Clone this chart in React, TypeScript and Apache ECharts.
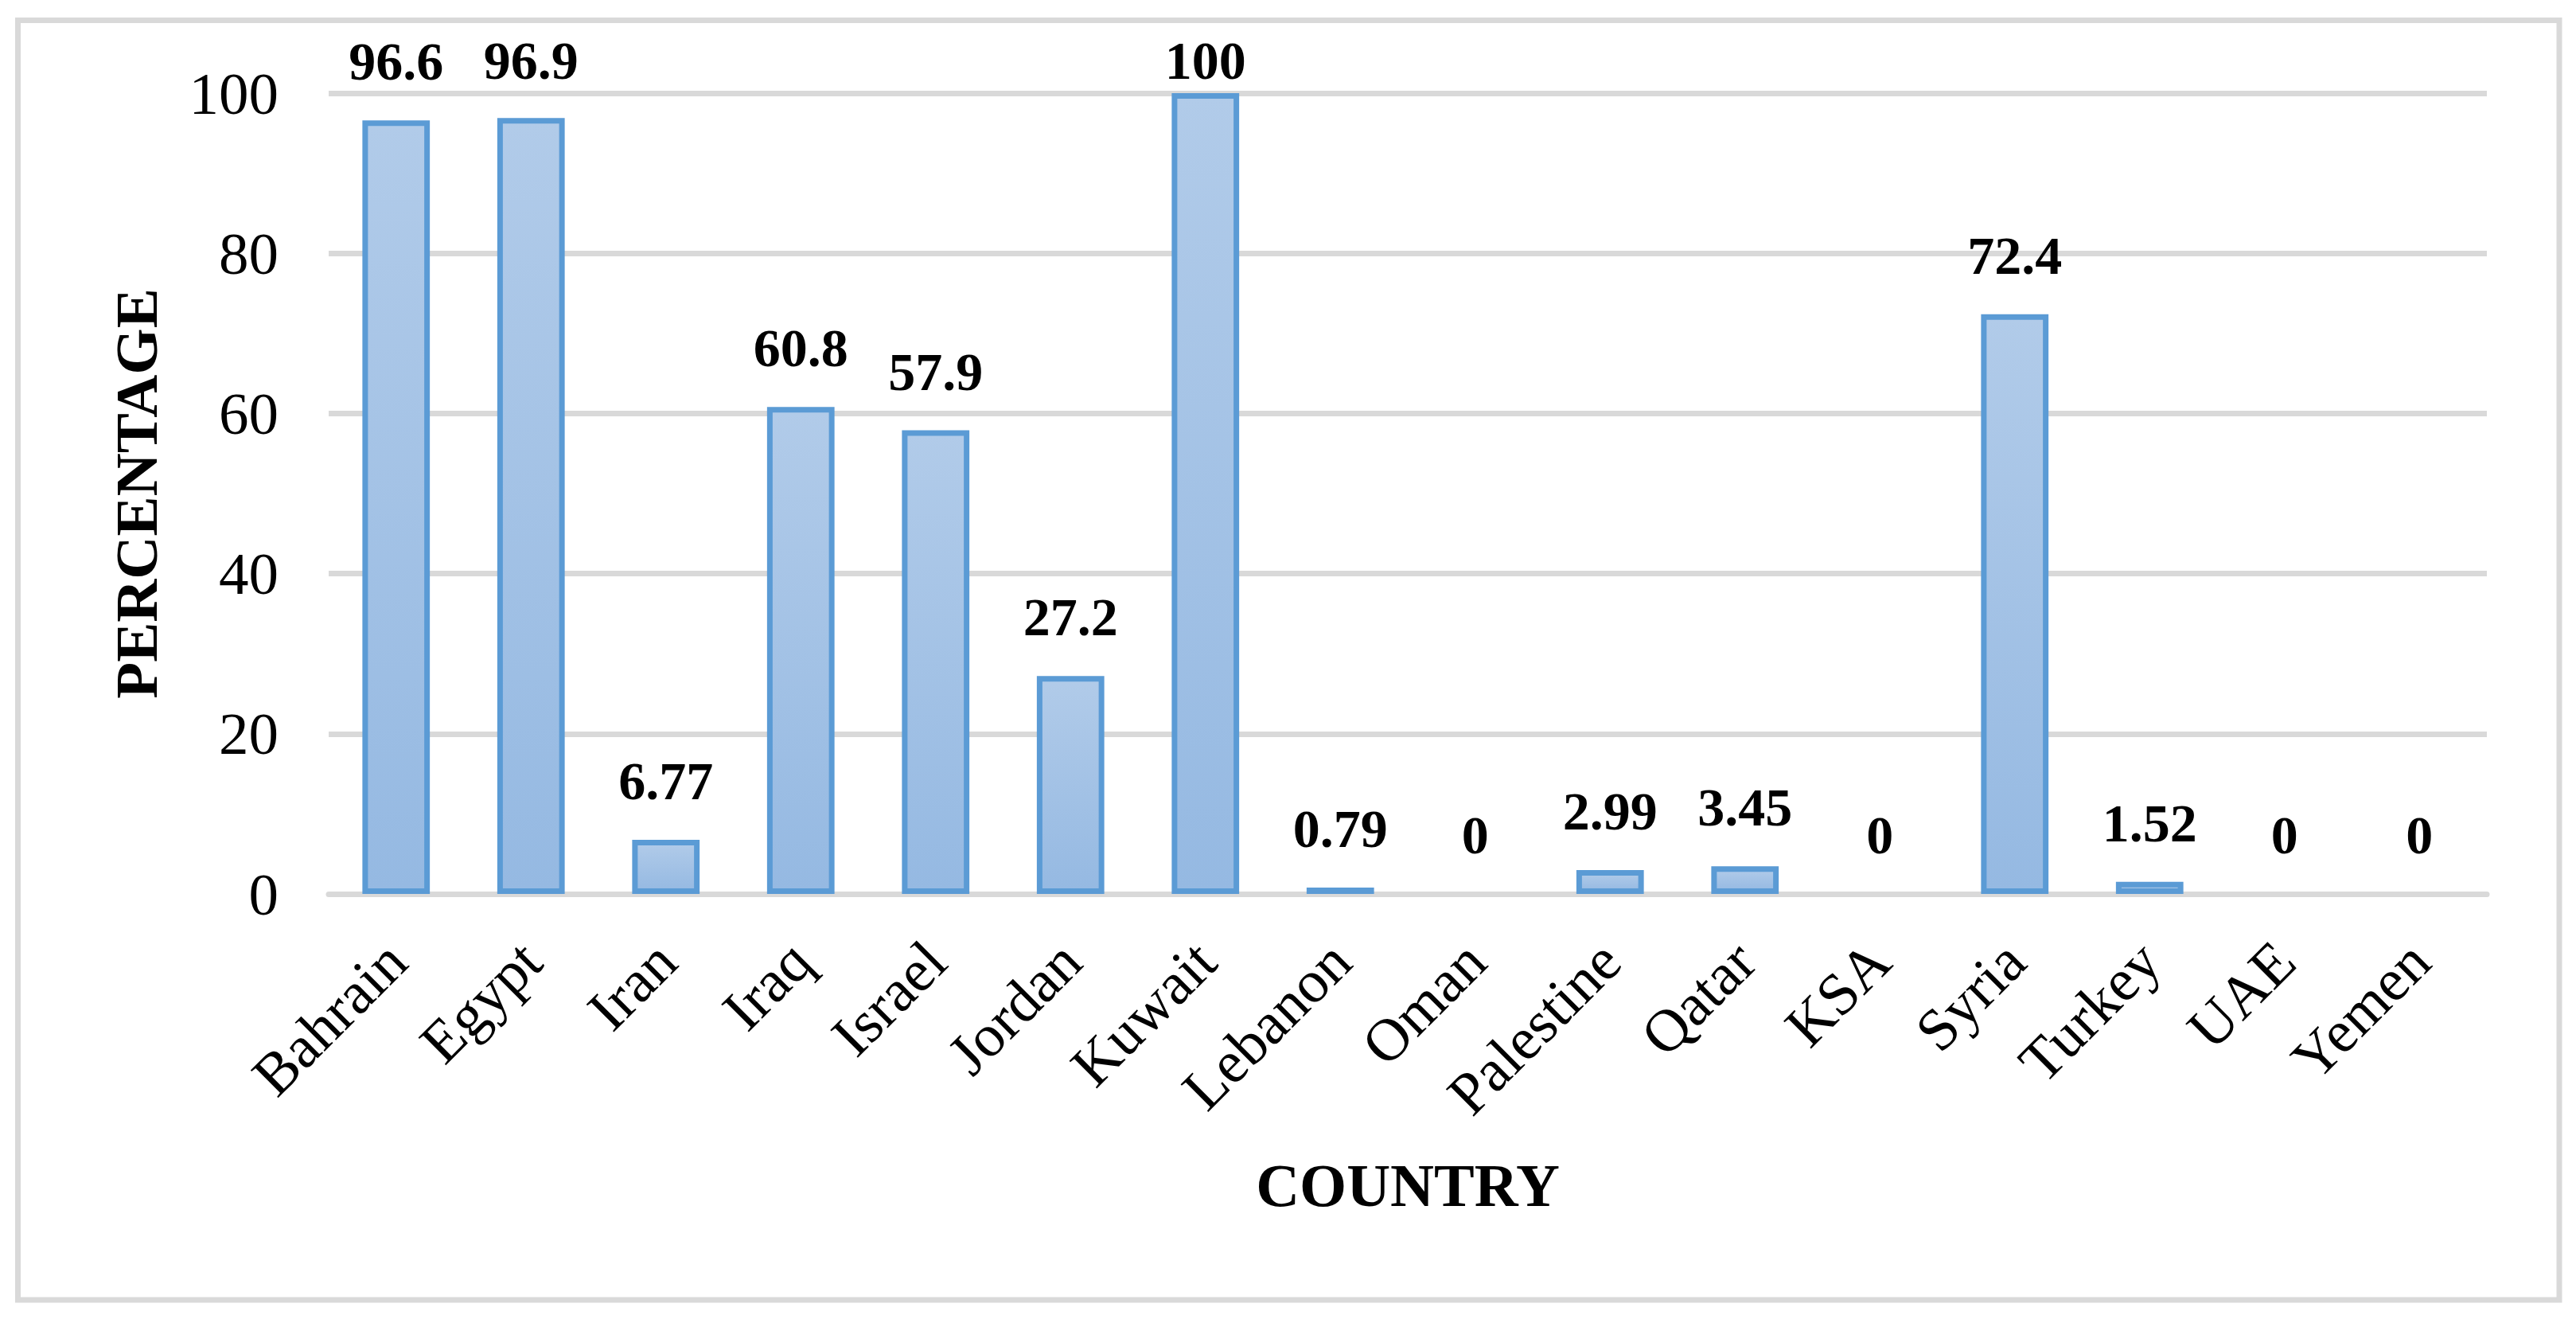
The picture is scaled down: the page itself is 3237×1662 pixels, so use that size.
import React, { useEffect, useRef } from "react";
import * as echarts from "echarts";

const categories = [
  "Bahrain", "Egypt", "Iran", "Iraq", "Israel", "Jordan", "Kuwait", "Lebanon",
  "Oman", "Palestine", "Qatar", "KSA", "Syria", "Turkey", "UAE", "Yemen",
];
const percentages = [96.6, 96.9, 6.77, 60.8, 57.9, 27.2, 100, 0.79, 0, 2.99, 3.45, 0, 72.4, 1.52, 0, 0];
const yTicks = { min: 0, max: 100, interval: 20 };
const xTitle = "COUNTRY";
const yTitle = "PERCENTAGE";

const FONT = "'Times New Roman', 'Liberation Serif', serif";
const GRID = { left: 413, right: 112, top: 117, bottom: 539 };
const GRID_COLOR = "#d9d9d9";

export default function App() {
  const ref = useRef<HTMLDivElement>(null);
  useEffect(() => {
    if (!ref.current) return;
    const chart = echarts.init(ref.current, null, { renderer: "svg" });
    const labelMinTop = GRID.top - 75;
    chart.setOption({
      animation: false,
      backgroundColor: "#ffffff",
      graphic: [
        {
          type: "rect",
          shape: { x: 22.5, y: 25.5, width: 3193.5, height: 1607.5 },
          style: { fill: "none", stroke: GRID_COLOR, lineWidth: 7 },
          z: -1,
        },
      ],
      grid: { ...GRID, containLabel: false },
      xAxis: {
        type: "category",
        data: categories,
        name: xTitle,
        nameLocation: "middle",
        nameGap: 328,
        nameTextStyle: { fontFamily: FONT, fontSize: 76, fontWeight: "bold", color: "#000", lineHeight: 76 },
        axisTick: { show: false },
        axisLine: { show: true, lineStyle: { color: GRID_COLOR, width: 7 } },
        axisLabel: {
          interval: 0,
          rotate: 45,
          margin: 72,
          fontFamily: FONT,
          fontSize: 75,
          color: "#000",
          lineHeight: 75,
        },
      },
      yAxis: {
        type: "value",
        min: yTicks.min,
        max: yTicks.max,
        interval: yTicks.interval,
        name: yTitle,
        nameLocation: "middle",
        nameGap: 204,
        nameTextStyle: { fontFamily: FONT, fontSize: 75, fontWeight: "bold", color: "#000", lineHeight: 75 },
        axisLine: { show: false },
        axisTick: { show: false },
        splitLine: { show: true, lineStyle: { color: GRID_COLOR, width: 7 } },
        axisLabel: { margin: 63, fontFamily: FONT, fontSize: 75, color: "#000", lineHeight: 75 },
      },
      series: [
        {
          type: "bar",
          barWidth: "50%",
          data: percentages.map((v) =>
            v === 0 ? { value: v, itemStyle: { borderWidth: 0, opacity: 0 } } : v
          ),
          itemStyle: {
            color: new echarts.graphic.LinearGradient(0, 0, 0, 1, [
              { offset: 0, color: "#b1cbe9" },
              { offset: 1, color: "#95b9e2" },
            ]),
            borderColor: "#5b9bd5",
            borderWidth: 7,
          },
          label: {
            show: true,
            position: "top",
            distance: 40,
            fontFamily: FONT,
            fontSize: 68,
            fontWeight: "bold",
            color: "#000",
            lineHeight: 68,
            opacity: 1,
          },
          labelLayout: (p: any) => ({
            dy: Math.max(0, labelMinTop - p.labelRect.y),
          }),
        },
      ],
    });
    return () => chart.dispose();
  }, []);
  return (
    <div
      ref={ref}
      style={{ position: "fixed", left: 0, top: 0, width: 3237, height: 1662, background: "#fff" }}
    />
  );
}
